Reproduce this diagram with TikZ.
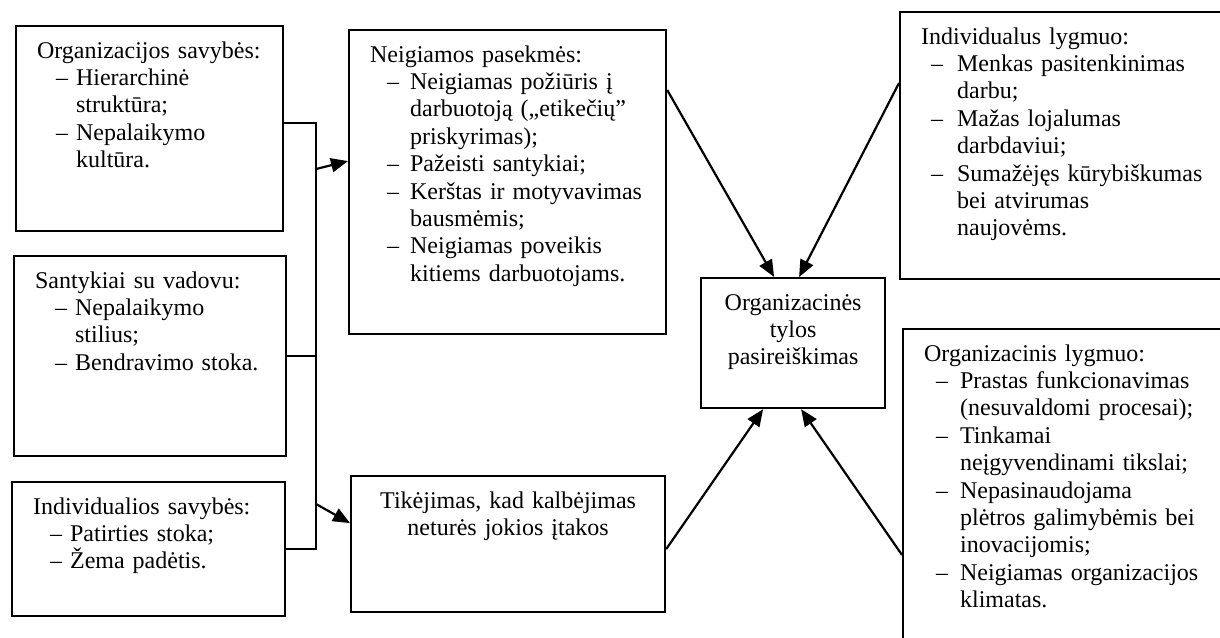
\documentclass[tikz,border=0pt]{standalone}
\usepackage{fontspec}
\setmainfont{Liberation Serif}
\usetikzlibrary{arrows.meta}

\newcommand{\itm}[2]{\hspace*{#1}\makebox[\dimexpr#2-#1\relax][l]{–}}
\newcommand{\cnt}[1]{\hspace*{#1}}

\begin{document}
\begin{tikzpicture}[x=0.5pt,y=-0.5pt,>={Triangle[length=8.5pt,width=7pt]},
  box/.style={draw,line width=1.1pt,rectangle,anchor=north west,align=left,
    inner xsep=10.5pt,inner ysep=6pt,text height=10pt,
    font=\fontsize{12}{13.7}\selectfont},
  mid/.style={box,align=center},
  link/.style={line width=1.1pt}]
  \useasboundingbox (0,0) rectangle (1220,637);

  \node[box,text width=112.5pt,text depth=80.5pt] (orgsav) at (15,25)
    {Organizacijos savybės:\\
     \itm{9.5pt}{19.5pt}Hierarchinė\\
     \cnt{19.5pt}struktūra;\\
     \itm{9.5pt}{19.5pt}Nepalaikymo\\
     \cnt{19.5pt}kultūra.};
  \node[box,text width=115pt,text depth=78pt] (santyk) at (13,255)
    {Santykiai su vadovu:\\
     \itm{10pt}{20pt}Nepalaikymo\\
     \cnt{20pt}stilius;\\
     \itm{10pt}{20pt}Bendravimo stoka.};
  \node[box,text width=115.5pt,text depth=45pt] (indsav) at (11,481)
    {Individualios savybės:\\
     \itm{8.5pt}{18.5pt}Patirties stoka;\\
     \itm{8.5pt}{18.5pt}Žema padėtis.};
  \node[box,text width=137.5pt,text depth=130pt] (neig) at (348,29)
    {Neigiamos pasekmės:\\
     \itm{8.5pt}{20pt}Neigiamas požiūris į\\
     \cnt{20pt}darbuotoją („etikečių”\\
     \cnt{20pt}priskyrimas);\\
     \itm{8.5pt}{20pt}Pažeisti santykiai;\\
     \itm{8.5pt}{20pt}Kerštas ir motyvavimas\\
     \cnt{20pt}bausmėmis;\\
     \itm{8.5pt}{20pt}Neigiamas poveikis\\
     \cnt{20pt}kitiems darbuotojams.};
  \node[mid,text width=136pt,text depth=46pt] (tikej) at (350,475)
    {Tikėjimas, kad kalbėjimas\\neturės jokios įtakos};
  \node[mid,text width=71pt,text depth=43pt] (tyla) at (700,277)
    {Organizacinės\\tylos\\pasireiškimas};
  \node[box,text width=149pt,text depth=111.5pt] (indlyg) at (899,11)
    {Individualus lygmuo:\\
     \itm{5pt}{18pt}Menkas pasitenkinimas\\
     \cnt{18pt}darbu;\\
     \itm{5pt}{18pt}Mažas lojalumas\\
     \cnt{18pt}darbdaviui;\\
     \itm{5pt}{18pt}Sumažėjęs kūrybiškumas\\
     \cnt{18pt}bei atvirumas\\
     \cnt{18pt}naujovėms.};
  \node[box,text width=149pt,text depth=143pt] (orglyg) at (902,328)
    {Organizacinis lygmuo:\\
     \itm{6pt}{18pt}Prastas funkcionavimas\\
     \cnt{18pt}(nesuvaldomi procesai);\\
     \itm{6pt}{18pt}Tinkamai\\
     \cnt{18pt}neįgyvendinami tikslai;\\
     \itm{6pt}{18pt}Nepasinaudojama\\
     \cnt{18pt}plėtros galimybėmis bei\\
     \cnt{18pt}inovacijomis;\\
     \itm{6pt}{18pt}Neigiamas organizacijos\\
     \cnt{18pt}klimatas.};

  \coordinate (jtop) at (316,123);
  \coordinate (jbot) at (indsav.east -| 316,0);
  \coordinate (jup) at (316,169);
  \coordinate (jdn) at (316,504);

  \draw[link] (orgsav.east |- jtop) -- (jtop) -- (jbot) -- (indsav.east);
  \draw[link] (santyk.east) -- (santyk.east -| jtop);
  \draw[link,->] (jup) -- ([yshift=10.5pt]neig.west);
  \draw[link,->] (jdn) -- ([yshift=10.5pt]tikej.west);
  \draw[link,->] ([yshift=-30.5pt]neig.north east) -- ([xshift=-9.5pt]tyla.north);
  \draw[link,->] ([yshift=-36pt]indlyg.north west) -- ([xshift=3pt]tyla.north);
  \draw[link,->] ([yshift=-2.5pt]tikej.east) -- ([xshift=-15pt]tyla.south);
  \draw[link,->] ([yshift=-113.5pt]orglyg.north west) -- ([xshift=4pt]tyla.south);
\end{tikzpicture}
\end{document}
